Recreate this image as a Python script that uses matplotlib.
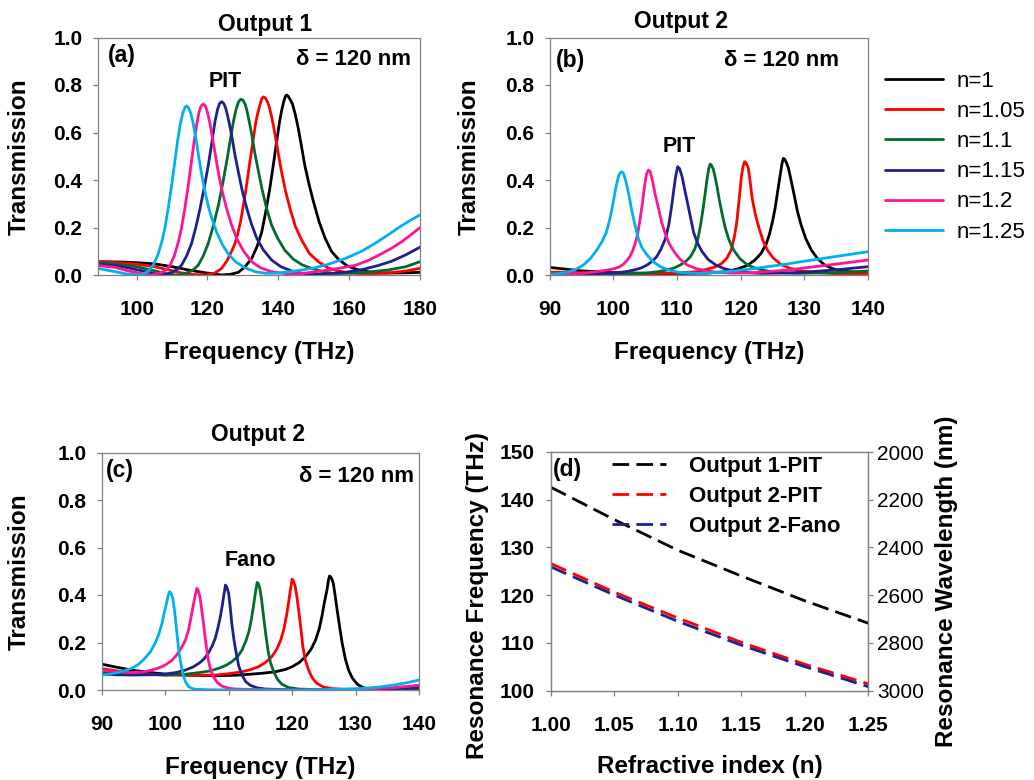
import matplotlib
matplotlib.use("Agg")
import matplotlib.pyplot as plt

plt.rcParams['font.family'] = ['Liberation Sans', 'DejaVu Sans']

# ---------------- data (frequency THz, transmission) ----------------
N_LABELS = ['n=1', 'n=1.05', 'n=1.1', 'n=1.15', 'n=1.2', 'n=1.25']
COLORS = ['#000000', '#ff0000', '#006b2d', '#1f1f8f', '#ff1493', '#00b0f0']

# Panel (a): Output 1, PIT
A_N100 = [(89, .056), (95, .055), (100, .052), (105, .047), (110, .035), (115, .02), (120, .008), (124, .0), (126.5, .003), (128.7, .011), (130.5, .033), (132.5, .07), (134.0, .12), (135.3, .18), (136.5, .27), (137.6, .365), (138.6, .465), (139.5, .56), (140.3, .64), (140.9, .69), (141.6, .735), (142.0, .752), (142.3, .758), (142.7, .754), (143.3, .74), (144.0, .72), (144.8, .675), (145.6, .62), (146.5, .545), (147.5, .46), (148.7, .38), (149.9, .31), (151.5, .225), (153.2, .155), (155.0, .1), (156.9, .067), (159.5, .038), (162.6, .021), (166, .012), (170, .008), (175, .009), (180, .011)]
A_N105 = [(89, .055), (95, .052), (100, .046), (105, .035), (110, .018), (113, .008), (116, .002), (119.5, .0), (122, .008), (124, .028), (125.5, .06), (126.8, .1), (127.7, .13), (128.5, .17), (129.4, .23), (130.2, .3), (131.0, .375), (131.7, .45), (132.4, .52), (133.0, .58), (133.5, .63), (134.0, .67), (134.6, .705), (135.3, .742), (135.8, .75), (136.3, .746), (136.9, .73), (137.4, .71), (138.2, .66), (139.1, .59), (140.0, .51), (140.9, .435), (142.0, .355), (143.3, .28), (144.8, .205), (146.6, .147), (148.8, .09), (151.3, .056), (154, .03), (156.9, .017), (160, .009), (163.5, .006), (168, .006), (172, .01), (176, .017), (180, .028)]
A_N110 = [(89, .05), (95, .045), (100, .035), (105, .018), (108, .007), (111, .0), (113, .004), (114.6, .011), (116, .022), (117.4, .042), (118.8, .08), (120.2, .133), (121.7, .21), (123.1, .295), (124.3, .385), (125.4, .477), (126.4, .565), (127.3, .645), (128.1, .7), (128.8, .73), (129.4, .74), (130.0, .736), (130.6, .72), (131.1, .695), (131.8, .645), (132.5, .59), (133.4, .51), (134.4, .435), (135.5, .355), (136.7, .28), (138.1, .21), (139.8, .155), (141.8, .105), (144.2, .067), (146.7, .043), (149.4, .028), (152.5, .014), (156, .006), (160, .007), (165, .012), (171, .021), (176, .035), (180, .056)]
A_N115 = [(89, .045), (94, .04), (97.6, .03), (101.4, .018), (105, .006), (107.5, .0), (109.9, .01), (111.3, .022), (112.7, .042), (114.1, .08), (115.5, .133), (116.7, .2), (117.9, .28), (119.1, .37), (120.2, .46), (121.2, .555), (122.1, .645), (122.8, .695), (123.4, .722), (124.0, .73), (124.6, .722), (125.1, .705), (125.6, .675), (126.2, .635), (126.8, .59), (127.7, .51), (128.7, .435), (129.8, .355), (131.1, .28), (132.4, .215), (133.9, .155), (135.8, .105), (138.1, .063), (140.7, .035), (143.8, .017), (146.5, .008), (149.4, .003), (153, .004), (158.8, .011), (164, .024), (168.2, .04), (172, .058), (176, .085), (180, .117)]
A_N120 = [(89, .04), (94, .032), (97.6, .017), (101.4, .006), (104, .0), (107.1, .01), (108.3, .022), (109.4, .04), (110.6, .08), (111.8, .14), (112.7, .2), (113.6, .28), (114.6, .38), (115.5, .48), (116.3, .57), (116.9, .63), (117.6, .685), (118.2, .712), (118.8, .72), (119.4, .712), (120.0, .685), (120.8, .63), (121.6, .56), (122.4, .49), (123.2, .42), (124.2, .35), (125.4, .28), (126.7, .215), (128.2, .155), (130.2, .1), (132.5, .056), (135, .03), (138.1, .014), (142.8, .004), (147, .007), (152.2, .017), (157, .028), (161.6, .04), (165.5, .062), (169.2, .09), (172, .113), (174.8, .14), (177.5, .17), (180, .2)]
A_N125 = [(89, .028), (93.9, .014), (97.6, .003), (101.4, .0), (103.2, .015), (104.7, .042), (106, .085), (107.1, .14), (108, .2), (108.9, .28), (109.9, .38), (110.8, .48), (111.6, .57), (112.3, .635), (113.0, .68), (113.6, .705), (114.1, .712), (114.7, .703), (115.3, .68), (116.0, .635), (116.9, .56), (117.6, .49), (118.4, .42), (119.3, .35), (120.3, .285), (121.4, .23), (122.6, .18), (124.2, .128), (125.9, .088), (128, .055), (130.6, .03), (133.5, .014), (136.5, .007), (140, .008), (144.7, .017), (149.5, .028), (154.1, .045), (159, .07), (163.5, .1), (167.5, .135), (171.1, .17), (174, .2), (176.7, .225), (180, .253)]

# Panel (b): Output 2, PIT
B_N100 = [(90, .032), (94.7, .018), (100, .01), (107.9, .006), (114.7, .008), (117.5, .014), (119.5, .025), (121.0, .04), (122.2, .062), (123.2, .091), (124.0, .13), (124.5, .17), (125.0, .225), (125.4, .28), (125.8, .35), (126.2, .42), (126.5, .47), (126.7, .491), (126.9, .488), (127.2, .472), (127.5, .45), (127.95, .395), (128.4, .337), (128.9, .27), (129.5, .21), (130.2, .155), (131.1, .105), (132.1, .068), (133.2, .042), (134.5, .026), (135.8, .017), (138, .011), (140, .008)]
B_N105 = [(90, .012), (95, .01), (100, .008), (105, .006), (110, .008), (113.2, .014), (115.8, .032), (117.0, .048), (117.8, .07), (118.5, .105), (119.0, .16), (119.4, .225), (119.8, .33), (120.1, .41), (120.35, .455), (120.6, .477), (120.85, .472), (121.2, .45), (121.5, .39), (121.8, .323), (122.3, .255), (122.9, .196), (123.5, .145), (124.2, .105), (125.1, .072), (126.3, .045), (127.8, .028), (129.5, .017), (132, .01), (134.7, .006), (140, .006)]
B_N110 = [(90, .0), (95, .001), (100, .002), (105, .008), (107, .014), (108.4, .021), (109.6, .03), (110.5, .042), (111.4, .058), (112.1, .077), (112.8, .11), (113.3, .155), (113.7, .21), (114.1, .28), (114.45, .35), (114.75, .41), (115.0, .45), (115.2, .467), (115.4, .462), (115.7, .445), (116.0, .41), (116.3, .37), (116.6, .323), (117.1, .255), (117.6, .196), (118.2, .145), (118.9, .105), (119.9, .068), (121.1, .042), (122.5, .027), (124.2, .017), (126, .01), (128.4, .007), (131, .008), (134.7, .01), (140, .017)]
B_N115 = [(90, .0), (95, .003), (100, .008), (102, .014), (103.2, .021), (104.4, .03), (105.3, .042), (106.1, .058), (106.8, .077), (107.5, .11), (108.2, .155), (108.7, .21), (109.1, .28), (109.45, .35), (109.75, .41), (110.1, .456), (110.4, .448), (110.8, .414), (111.2, .36), (111.6, .31), (112.1, .245), (112.6, .18), (113.2, .135), (113.9, .1), (114.9, .065), (116.1, .042), (117.4, .027), (118.9, .017), (121, .01), (123.2, .007), (126, .008), (129.5, .011), (134.7, .021), (140, .035)]
B_N120 = [(90, .002), (95.3, .007), (98.9, .02), (100.2, .027), (101, .035), (101.6, .046), (102.1, .06), (102.6, .078), (103.0, .1), (103.4, .13), (103.8, .17), (104.2, .235), (104.6, .31), (104.9, .375), (105.2, .425), (105.5, .442), (105.8, .435), (106.2, .39), (106.6, .335), (107.1, .28), (107.6, .22), (108.2, .17), (108.8, .13), (109.5, .1), (110.5, .065), (111.6, .042), (113, .027), (114.7, .017), (116.5, .011), (118.9, .008), (121.5, .009), (124.2, .014), (127, .02), (129.5, .028), (134.7, .045), (140, .063)]
B_N125 = [(90, .003), (91.5, .006), (92.6, .011), (94, .022), (95.3, .042), (96.4, .07), (97.4, .105), (98.2, .14), (98.9, .18), (99.5, .24), (100.0, .31), (100.4, .37), (100.8, .415), (101.05, .43), (101.3, .435), (101.55, .43), (101.8, .41), (102.1, .38), (102.5, .33), (102.9, .27), (103.4, .21), (103.9, .155), (104.5, .115), (105.3, .084), (106.3, .055), (107.4, .035), (108.8, .02), (110.5, .01), (112.5, .008), (114.2, .007), (116.5, .011), (118.9, .017), (121.5, .025), (124.2, .035), (127, .045), (129.5, .056), (132, .066), (134.7, .077), (137.5, .088), (140, .098)]

# Panel (c): Output 2, Fano
C_N100 = [(90, .109), (92.5, .095), (94.7, .084), (97.5, .074), (100, .067), (104, .062), (107.9, .06), (111, .062), (113.2, .066), (115.5, .071), (117.4, .077), (119, .087), (120.0, .098), (121.1, .115), (122.1, .14), (123.0, .172), (123.7, .21), (124.3, .26), (124.7, .31), (125.1, .37), (125.5, .421), (125.75, .465), (125.9, .48), (126.1, .476), (126.3, .465), (126.5, .449), (126.8, .395), (127.1, .337), (127.5, .265), (127.9, .196), (128.4, .13), (128.9, .084), (129.5, .05), (130.3, .024), (131.1, .011), (132.1, .004), (134, .003), (135.8, .006), (140, .011)]
C_N105 = [(90, .09), (92.5, .08), (94.7, .073), (97.5, .067), (100, .063), (104, .062), (107.9, .063), (110.2, .069), (112.1, .077), (113.5, .086), (114.7, .098), (115.8, .116), (116.8, .14), (117.6, .172), (118.2, .21), (118.7, .255), (119.1, .31), (119.4, .36), (119.7, .415), (120.0, .467), (120.2, .46), (120.5, .435), (120.8, .385), (121.1, .323), (121.4, .255), (121.7, .182), (122.1, .125), (122.6, .084), (123.2, .05), (123.9, .028), (125, .012), (126.3, .006), (128.5, .002), (131.6, .0), (135, .003), (140, .007)]
C_N110 = [(90, .074), (92.5, .07), (95, .066), (100, .063), (103, .066), (105.3, .073), (107, .08), (108.4, .091), (109.6, .104), (110.5, .119), (111.4, .14), (112.1, .168), (112.7, .205), (113.2, .246), (113.6, .3), (113.9, .351), (114.2, .405), (114.5, .453), (114.7, .447), (114.9, .43), (115.2, .38), (115.5, .31), (115.85, .235), (116.2, .168), (116.6, .115), (117.1, .077), (117.7, .045), (118.4, .024), (119.5, .01), (121.1, .004), (125, .001), (131.6, .0), (136, .003), (140, .006)]
C_N115 = [(90, .067), (92.5, .064), (94.7, .063), (97.5, .064), (100, .067), (101.8, .074), (103.2, .084), (104.4, .097), (105.3, .112), (106.1, .13), (106.8, .155), (107.4, .185), (107.9, .218), (108.3, .26), (108.7, .31), (109.0, .355), (109.25, .4), (109.5, .442), (109.7, .435), (110.0, .407), (110.25, .35), (110.5, .28), (110.85, .21), (111.2, .155), (111.6, .1), (112.1, .063), (112.7, .035), (113.4, .02), (114.5, .009), (115.8, .004), (120, .001), (126.3, .0), (131, .002), (134.2, .004), (140, .01)]
C_N120 = [(90, .084), (92.5, .077), (94.7, .073), (96.5, .076), (97.9, .084), (99.0, .093), (100, .105), (101.0, .123), (101.8, .147), (102.5, .175), (103.2, .21), (103.7, .255), (104.1, .31), (104.45, .36), (104.75, .4), (105.0, .428), (105.2, .42), (105.5, .39), (105.8, .33), (106.1, .267), (106.4, .2), (106.7, .14), (107.1, .09), (107.6, .056), (108.2, .032), (108.9, .017), (110, .007), (111.1, .004), (115, .001), (121.1, .0), (126, .001), (131.6, .004), (136, .01), (140, .02)]
C_N125 = [(90, .063), (91.3, .067), (92.6, .074), (93.7, .082), (94.7, .091), (95.8, .108), (96.8, .133), (97.7, .162), (98.4, .196), (99.0, .235), (99.5, .28), (99.9, .33), (100.2, .365), (100.5, .4), (100.7, .414), (100.9, .408), (101.2, .386), (101.45, .34), (101.7, .28), (101.95, .215), (102.2, .155), (102.55, .1), (102.9, .056), (103.3, .03), (103.7, .014), (104.2, .007), (104.7, .003), (107, .001), (110.5, .0), (121, .0), (126, .002), (130.5, .006), (133.5, .012), (135.8, .02), (138, .03), (140, .042)]

# Panel (d): resonance frequency vs refractive index
REFRACTIVE_INDEX = [1.00, 1.05, 1.10, 1.15, 1.20, 1.25]
F_OUT1_PIT = [142.6, 135.8, 129.4, 124.0, 118.8, 114.1]
F_OUT2_PIT = [126.6, 120.6, 115.2, 110.1, 105.5, 101.4]
F_OUT2_FANO = [125.9, 120.0, 114.5, 109.5, 105.0, 100.8]
D_LABELS = ['Output 1-PIT', 'Output 2-PIT', 'Output 2-Fano']
D_COLORS = ['#000000', '#ff0000', '#1f1f8f']

PANEL_A = [A_N100, A_N105, A_N110, A_N115, A_N120, A_N125]
PANEL_B = [B_N100, B_N105, B_N110, B_N115, B_N120, B_N125]
PANEL_C = [C_N100, C_N105, C_N110, C_N115, C_N120, C_N125]

# ---------------- figure ----------------
W, H = 1034, 780
fig = plt.figure(figsize=(W / 100, H / 100), dpi=100)

def px_axes(l, t, r, b):
    return fig.add_axes([l / W, 1 - b / H, (r - l) / W, (b - t) / H])

SPINE = '#808080'
TICKFS = 15
LABELFS = 17.5

def style(ax, xpad=14.5, ypad=7.5):
    for s in ax.spines.values():
        s.set_color(SPINE)
        s.set_linewidth(0.9)
    ax.tick_params(direction='out', length=3.6, width=0.9, color=SPINE,
                   labelsize=TICKFS)
    ax.tick_params(axis='x', pad=xpad)
    ax.tick_params(axis='y', pad=ypad)
    for lab in ax.get_xticklabels() + ax.get_yticklabels():
        lab.set_fontweight('bold')

def spectrum_panel(ax, data, xlim, xticks, tag, tagpos, delta_pos, title, title_pos,
                   note, note_pos, ylab_x):
    lines = []
    for pts, c, lab in zip(data, COLORS, N_LABELS):
        xs = [p[0] for p in pts]
        ys = [p[1] for p in pts]
        ln, = ax.plot(xs, ys, color=c, lw=2.0, label=lab,
                      solid_joinstyle='round', solid_capstyle='round')
        lines.append(ln)
    ax.set_xlim(*xlim)
    ax.set_ylim(0, 1.0)
    ax.set_xticks(xticks)
    ax.set_xticklabels([str(v) for v in xticks])
    yt = [0.0, 0.2, 0.4, 0.6, 0.8, 1.0]
    ax.set_yticks(yt)
    ax.set_yticklabels(['%.1f' % v for v in yt])
    style(ax)
    ax.set_xlabel('Frequency (THz)', fontsize=LABELFS, fontweight='bold')
    ax.xaxis.label.set_va('baseline')
    ax.xaxis.set_label_coords(0.5, -0.352)
    ax.set_ylabel('Transmission', fontsize=LABELFS, fontweight='bold')
    ax.yaxis.label.set_va('center')
    ax.yaxis.set_label_coords(ylab_x, 0.5)
    ax.text(tagpos[0], tagpos[1], tag, transform=ax.transAxes, fontsize=16.5,
            fontweight='bold', ha='left', va='center')
    ax.text(delta_pos[0], delta_pos[1], '\u03b4 = 120 nm', transform=ax.transAxes,
            fontsize=16, fontweight='bold', ha='right', va='center')
    ax.text(title_pos[0], title_pos[1], title, transform=ax.transAxes, fontsize=16.5,
            fontweight='bold', ha='center', va='baseline')
    ax.text(note_pos[0], note_pos[1], note, fontsize=15.5, fontweight='bold',
            ha='center', va='center')
    return lines

ax_a = px_axes(97.7, 37.5, 420, 275)
spectrum_panel(ax_a, PANEL_A, (89, 180), [100, 120, 140, 160, 180], '(a)', (0.031, 0.923),
               (0.972, 0.909), 'Output 1', (0.519, 1.029), 'PIT', (125.1, 0.814), -0.243)

ax_b = px_axes(549.7, 37.5, 868, 275)
lines_b = spectrum_panel(ax_b, PANEL_B, (90, 140), [90, 100, 110, 120, 130, 140], '(b)',
                         (0.018, 0.902), (0.908, 0.903), 'Output 2', (0.413, 1.038),
                         'PIT', (110.4, 0.54), -0.254)

ax_c = px_axes(101.7, 452.5, 419, 690)
spectrum_panel(ax_c, PANEL_C, (90, 140), [90, 100, 110, 120, 130, 140], '(c)',
               (0.0145, 0.923), (0.984, 0.898), 'Output 2', (0.492, 1.048),
               'Fano', (113.5, 0.544), -0.259)

fig.legend(handles=lines_b, labels=N_LABELS, loc='upper left',
           bbox_to_anchor=(885 / W, 1 - 71 / H), frameon=False, borderpad=0,
           borderaxespad=0, handlelength=2.6, handletextpad=0.62,
           labelspacing=0.41, prop={'size': 16})

# Panel (d)
ax_d = px_axes(551, 452, 868.3, 690.5)
for ys, c, lab in zip([F_OUT1_PIT, F_OUT2_PIT, F_OUT2_FANO], D_COLORS, D_LABELS):
    ax_d.plot(REFRACTIVE_INDEX, ys, color=c, lw=2.0, dashes=(6, 2.6), label=lab)
ax_d.set_xlim(1.0, 1.25)
ax_d.set_ylim(100, 150)
xt = [1.00, 1.05, 1.10, 1.15, 1.20, 1.25]
ax_d.set_xticks(xt)
ax_d.set_xticklabels(['%.2f' % v for v in xt])
yt = [100, 110, 120, 130, 140, 150]
ax_d.set_yticks(yt)
ax_d.set_yticklabels([str(v) for v in yt])
style(ax_d, xpad=14.5, ypad=8)
ax_d.set_xlabel('Refractive index (n)', fontsize=LABELFS, fontweight='bold')
ax_d.xaxis.label.set_va('baseline')
ax_d.xaxis.set_label_coords(0.5, -0.347)
ax_d.set_ylabel('Resonance Frequency (THz)', fontsize=LABELFS, fontweight='bold')
ax_d.yaxis.label.set_va('center')
ax_d.yaxis.set_label_coords(-0.232, 0.40)
ax_d.text(0.006, 0.925, '(d)', transform=ax_d.transAxes, fontsize=16.5,
          fontweight='bold', ha='left', va='center')
ax_d.legend(loc='upper left', bbox_to_anchor=(0.191, 0.985), frameon=False,
            borderpad=0, borderaxespad=0, handlelength=2.47, handletextpad=1.0,
            labelspacing=0.42, prop={'size': 16, 'weight': 'bold'})

ax_r = ax_d.twinx()
ax_r.set_ylim(3000, 2000)
rt = [2000, 2200, 2400, 2600, 2800, 3000]
ax_r.set_yticks(rt)
ax_r.set_yticklabels([str(v) for v in rt])
for s in ax_r.spines.values():
    s.set_color(SPINE)
    s.set_linewidth(0.9)
ax_r.tick_params(direction='out', length=3.6, width=0.9, color=SPINE,
                 labelsize=15, pad=3)
ax_r.set_ylabel('Resonance Wavelength (nm)', fontsize=LABELFS, fontweight='bold')
ax_r.yaxis.label.set_va('center')
ax_r.yaxis.label.set_rotation(90)
ax_r.yaxis.set_label_coords(1.247, 0.456)

fig.savefig('out.png', dpi=100)
